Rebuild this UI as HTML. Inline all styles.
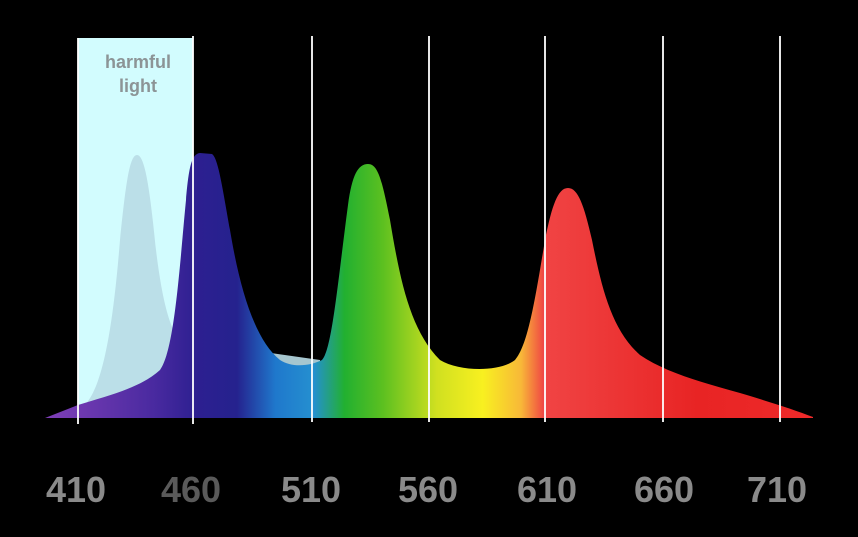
<!DOCTYPE html>
<html><head><meta charset="utf-8"><style>
html,body{margin:0;padding:0;background:#000;width:858px;height:537px;overflow:hidden}
svg{display:block}
</style></head><body>
<svg width="858" height="537" viewBox="0 0 858 537">
<defs>
<linearGradient id="sp" x1="45" y1="0" x2="813" y2="0" gradientUnits="userSpaceOnUse">
<stop offset="0" stop-color="#8040b8"/>
<stop offset="0.14" stop-color="#4a2aa0"/>
<stop offset="0.2" stop-color="#2c1f90"/>
<stop offset="0.25" stop-color="#25228e"/>
<stop offset="0.3" stop-color="#1f78cc"/>
<stop offset="0.35" stop-color="#2590d0"/>
<stop offset="0.39" stop-color="#22b030"/>
<stop offset="0.44" stop-color="#5cc020"/>
<stop offset="0.51" stop-color="#d0e020"/>
<stop offset="0.57" stop-color="#f8f020"/>
<stop offset="0.62" stop-color="#f8b838"/>
<stop offset="0.65" stop-color="#f04444"/>
<stop offset="0.85" stop-color="#e82424"/>
<stop offset="1" stop-color="#ee2a2a"/>
</linearGradient>
</defs>
<rect x="78" y="38" width="115" height="380" fill="#d2fcfe"/>
<text x="138" y="68" text-anchor="middle" font-family="Liberation Sans, sans-serif" font-weight="bold" font-size="18" fill="#8c9496">harmful</text>
<text x="138" y="92" text-anchor="middle" font-family="Liberation Sans, sans-serif" font-weight="bold" font-size="18" fill="#8c9496">light</text>
<!-- pale hump -->
<path d="M78,410 C100,400 112,340 120,240 C126,180 130,155 137,155 C145,155 150,190 156,250 C162,300 170,330 180,340 L320,360 L320,418 L78,418 Z" fill="#b8dce6" opacity="0.9"/>
<!-- spectrum -->
<path d="M45,418 L78,405 C110,395 140,388 160,370 C175,350 180,260 186,200 C189,165 192,154 200,153 L212,154 C218,158 222,185 230,230 C240,290 255,340 280,360 C292,368 310,366 322,360 C332,350 338,280 348,205 C352,175 358,164 368,164 C378,164 382,180 390,220 C400,280 410,330 440,360 C460,372 500,372 515,360 C528,345 535,300 545,240 C552,205 558,188 568,188 C578,188 584,205 592,240 C602,290 612,330 640,355 C665,372 700,382 740,393 C770,402 795,410 813,417 L813,418 Z" fill="url(#sp)"/>
<g stroke="#ffffff" stroke-width="2" opacity="0.9">
<line x1="78" y1="38" x2="78" y2="424"/>
<line x1="193" y1="36" x2="193" y2="424"/>
<line x1="312" y1="36" x2="312" y2="422"/>
<line x1="429" y1="36" x2="429" y2="422"/>
<line x1="545" y1="36" x2="545" y2="422"/>
<line x1="663" y1="36" x2="663" y2="422"/>
<line x1="780" y1="36" x2="780" y2="422"/>
</g>
<g font-family="Liberation Sans Narrow, Liberation Sans, sans-serif" font-weight="bold" font-size="36" fill="#8a8a8a" text-anchor="middle">
<text x="76" y="502">410</text>
<text x="191" y="502" fill="#5a5a5a">460</text>
<text x="311" y="502">510</text>
<text x="428" y="502">560</text>
<text x="547" y="502">610</text>
<text x="664" y="502">660</text>
<text x="777" y="502">710</text>
</g>
</svg>
</body></html>
